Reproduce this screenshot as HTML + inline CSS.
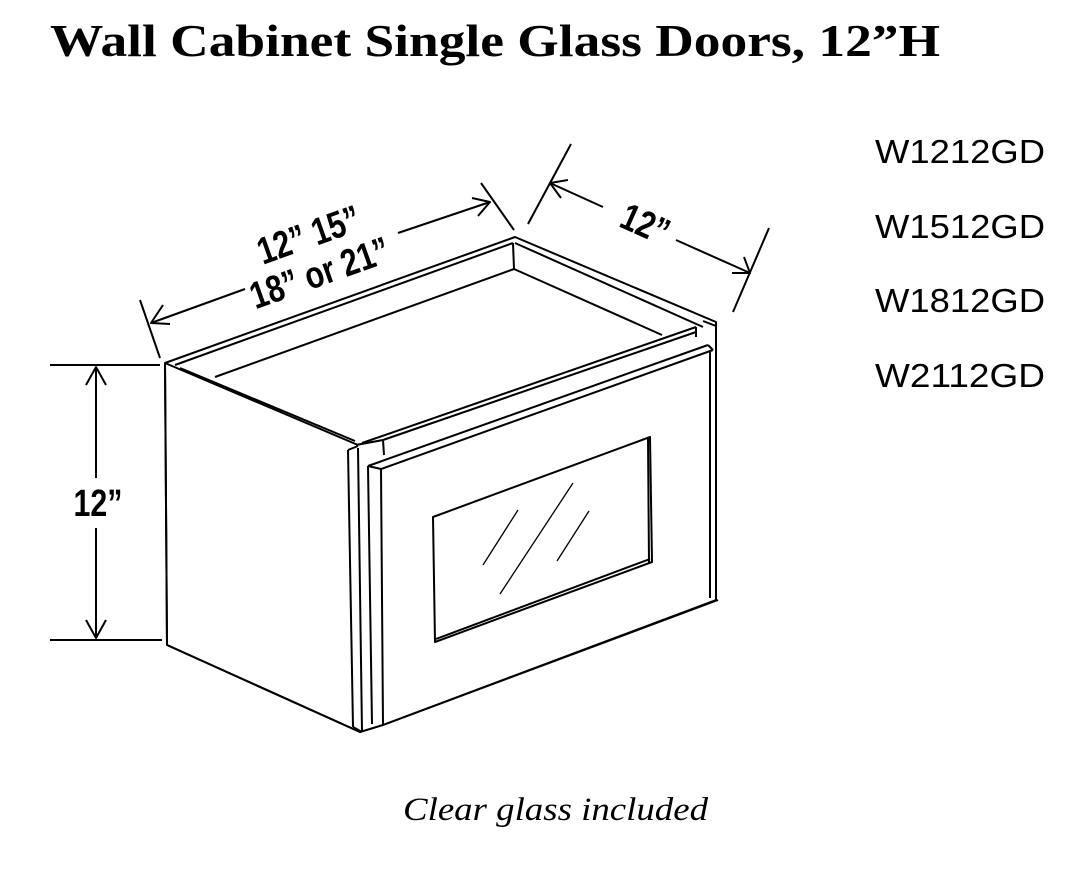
<!DOCTYPE html>
<html><head><meta charset="utf-8"><style>
html,body{margin:0;padding:0;background:#fff;width:1077px;height:884px;overflow:hidden}
svg{display:block}
</style></head><body>
<svg width="1077" height="884" viewBox="0 0 1077 884" xmlns="http://www.w3.org/2000/svg">
<text x="50" y="56" font-family="Liberation Serif, serif" font-weight="bold" font-size="46" textLength="890" lengthAdjust="spacingAndGlyphs" fill="#000">Wall Cabinet Single Glass Doors, 12”H</text>
<g font-family="Liberation Sans, sans-serif" font-size="33" fill="#000">
<text x="875" y="163" textLength="170" lengthAdjust="spacingAndGlyphs">W1212GD</text>
<text x="875" y="238" textLength="170" lengthAdjust="spacingAndGlyphs">W1512GD</text>
<text x="875" y="312" textLength="170" lengthAdjust="spacingAndGlyphs">W1812GD</text>
<text x="875" y="387" textLength="170" lengthAdjust="spacingAndGlyphs">W2112GD</text>
</g>
<text x="403" y="820" textLength="305" lengthAdjust="spacingAndGlyphs" font-family="Liberation Serif, serif" font-style="italic" font-size="33" fill="#000">Clear glass included</text>

<g stroke="#000" stroke-width="2" fill="none" stroke-linejoin="round">
<line x1="50" y1="365" x2="160" y2="365"/>
<line x1="50" y1="640" x2="162" y2="640"/>
<line x1="96" y1="367" x2="96" y2="478"/>
<line x1="96" y1="528" x2="96" y2="638"/>
<polyline points="86,385 96,367 106,385"/>
<polyline points="86,620 96,638 106,620"/>
<line x1="140" y1="300" x2="160" y2="358"/>
<line x1="481" y1="183" x2="514" y2="230"/>
<line x1="151" y1="323" x2="245" y2="289"/>
<line x1="398" y1="233" x2="490" y2="202"/>
<polyline points="163,305 151,323 170,324"/>
<polyline points="472,198 490,202 478,216"/>
<line x1="571" y1="144" x2="528" y2="224"/>
<line x1="769" y1="228" x2="733" y2="312"/>
<line x1="550" y1="183" x2="603" y2="207"/>
<line x1="676" y1="240" x2="750" y2="273"/>
<polyline points="561,198 550,183 568,180"/>
<polyline points="732,273 750,273 744,257"/>

<path d="M165,363 L515,237 L716,322 L716,600 L383,725 L360,732 L167,645 Z" fill="#fff"/>
<line x1="165" y1="363" x2="167" y2="645"/>
<line x1="167" y1="645" x2="360" y2="732"/>
<line x1="165" y1="363" x2="358" y2="445"/>
<line x1="180" y1="368" x2="355" y2="441"/>
<line x1="175" y1="365" x2="513" y2="243"/>
<line x1="513" y1="243" x2="514" y2="269"/>
<line x1="514" y1="269" x2="215" y2="377"/>
<line x1="514" y1="269" x2="662" y2="335"/>
<line x1="515" y1="243" x2="703" y2="327"/>
<line x1="362" y1="443" x2="696" y2="327"/>
<line x1="383" y1="440" x2="696" y2="332"/>
<line x1="383" y1="440" x2="384" y2="455"/>
<line x1="703" y1="321" x2="716" y2="326"/>
<line x1="696" y1="327" x2="696" y2="337"/>
<line x1="356" y1="445" x2="383" y2="440"/>
<line x1="348" y1="450" x2="353" y2="727"/>
<line x1="358" y1="448" x2="362" y2="732"/>
<line x1="348" y1="450" x2="358" y2="446"/>
<line x1="353" y1="727" x2="362" y2="732"/>
<line x1="368" y1="466" x2="372" y2="724"/>
<line x1="381" y1="469" x2="383" y2="725"/>
<line x1="368" y1="466" x2="381" y2="469"/>
<line x1="368" y1="466" x2="708" y2="345"/>
<line x1="381" y1="469" x2="713" y2="350"/>
<line x1="708" y1="345" x2="713" y2="350"/>
<line x1="710" y1="350" x2="710" y2="598"/>
<line x1="716" y1="322" x2="716" y2="600"/>
<line x1="383" y1="725" x2="718" y2="600"/>
<polygon points="433,517 650,437 652,562 435,642"/>
<line x1="648" y1="438" x2="649" y2="563"/>
<line x1="436" y1="639" x2="650" y2="559"/>
</g>
<g stroke="#000" stroke-width="1.3">
<line x1="483" y1="565" x2="518" y2="510"/>
<line x1="500" y1="594" x2="573" y2="483"/>
<line x1="557" y1="561" x2="589" y2="511"/>
</g>

<g font-family="Liberation Sans, sans-serif" font-weight="bold" font-size="38" fill="#000" text-anchor="middle">
<text transform="translate(98,516) scale(0.8,1)">12”</text>
<text transform="translate(313,247) rotate(-19.6) scale(0.8,1)">12” 15”</text>
<text transform="translate(324,285) rotate(-19.6) scale(0.8,1)">18” or 21”</text>
<text transform="translate(640,236) rotate(24) scale(0.8,1)">12”</text>
</g>
</svg>
</body></html>
